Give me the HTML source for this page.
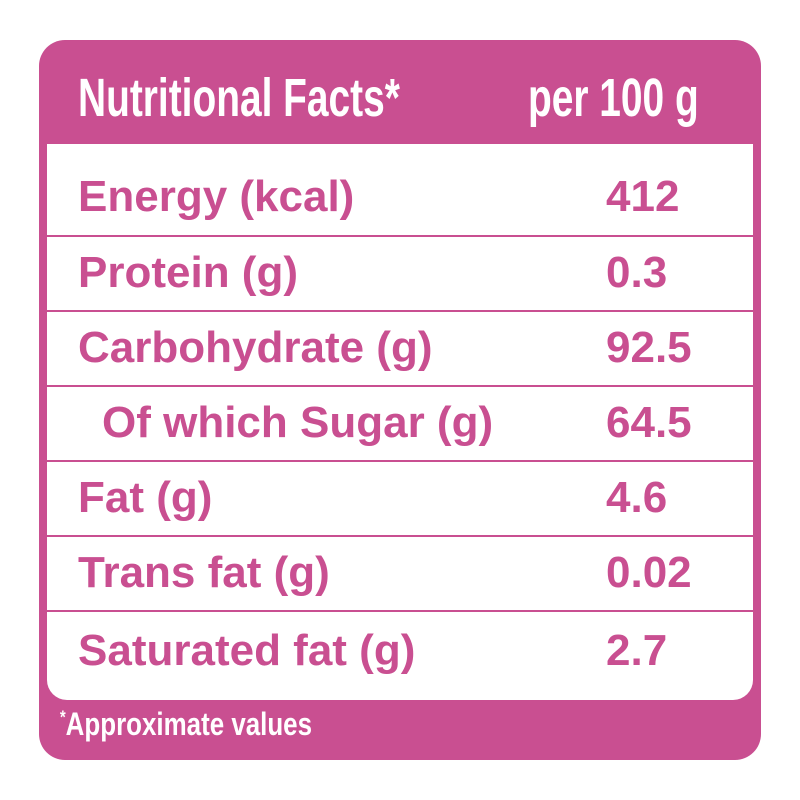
<!DOCTYPE html>
<html><head><meta charset="utf-8"><style>
body{margin:0;width:800px;height:800px;background:#fff;position:relative;overflow:hidden;font-family:"Liberation Sans",sans-serif}
#box{position:absolute;left:39px;top:40px;width:722px;height:720px;background:#c94f91;border-radius:26px}
#inner{position:absolute;left:47px;top:144px;width:706px;height:556px;background:#fff;border-radius:0 0 20px 20px}
.h{position:absolute;color:#fff;font-weight:bold;font-size:54px;top:68px;line-height:60px;transform:scaleX(0.72);transform-origin:left center;white-space:nowrap}
.r{position:absolute;left:47px;width:706px;height:75px;border-bottom:2px solid #c94f91;color:#c94f91;font-weight:bold;font-size:44px;box-sizing:border-box}
.r span{position:absolute;top:50%;transform:translateY(-52%);white-space:nowrap}
.l{left:31px}.v{left:559px}
#foot{position:absolute;left:60px;top:706px;color:#fff;font-weight:bold;font-size:32px;transform:scaleX(0.81);transform-origin:left center;white-space:nowrap}
</style></head><body>
<div id="box"></div>
<div class="h" style="left:78px">Nutritional Facts*</div>
<div class="h" style="left:528px">per 100 g</div>
<div id="inner"></div>
<div class="r" style="top:160px;height:77px"><span class="l">Energy (kcal)</span><span class="v">412</span></div>
<div class="r" style="top:237px"><span class="l">Protein (g)</span><span class="v">0.3</span></div>
<div class="r" style="top:312px"><span class="l">Carbohydrate (g)</span><span class="v">92.5</span></div>
<div class="r" style="top:387px"><span class="l" style="left:55px">Of which Sugar (g)</span><span class="v">64.5</span></div>
<div class="r" style="top:462px"><span class="l">Fat (g)</span><span class="v">4.6</span></div>
<div class="r" style="top:537px"><span class="l">Trans fat (g)</span><span class="v">0.02</span></div>
<div class="r" style="top:612px;border:none;height:80px"><span class="l">Saturated fat (g)</span><span class="v">2.7</span></div>
<div id="foot"><sup style="font-size:18px">*</sup>Approximate values</div>
</body></html>
